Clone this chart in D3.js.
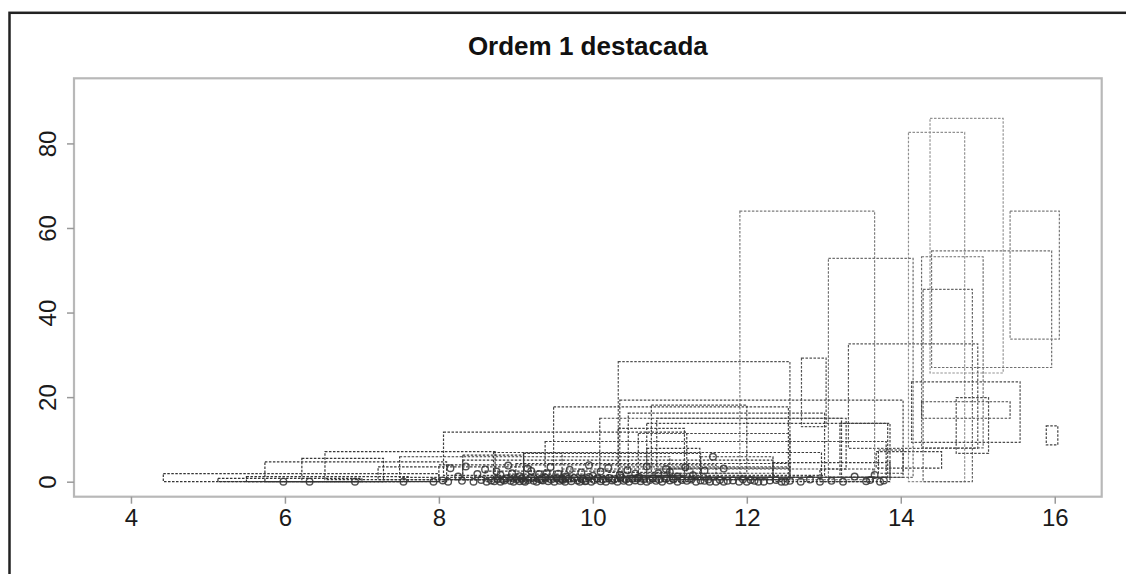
<!DOCTYPE html>
<html>
<head>
<meta charset="utf-8">
<script src="https://cdn.jsdelivr.net/npm/d3@7"></script>
<style>
  body { margin: 0; background: #fff; }
  svg { display: block; font-family: "Liberation Sans", Arial, sans-serif; }
</style>
</head>
<body>
<script>
// chart text + ticks
var title = "Ordem 1 destacada";
var xTicks = [4, 6, 8, 10, 12, 14, 16];
var yTicks = [0, 20, 40, 60, 80];

// boxes
var rectX0 = [14.10, 14.38, 15.42, 14.40, 14.27, 14.29, 14.14, 14.27, 14.72, 15.89,
              13.32, 13.68, 11.91, 13.06, 12.71, 10.33, 10.35, 10.76, 10.46, 10.83,
              10.70, 10.33, 10.59, 9.49, 10.09, 8.06, 9.38, 8.71, 6.52, 5.74,
              6.22, 4.42, 7.21, 8.31, 9.10, 7.49, 8.00, 9.00, 13.71, 11.40,
              11.00, 12.95, 12.34, 5.13, 5.50, 8.60, 9.60, 8.90, 10.20, 10.70,
              13.21, 8.31, 9.10];
var rectX1 = [14.83, 15.33, 16.06, 15.96, 15.07, 14.93, 15.55, 15.42, 15.14, 16.04,
              15.00, 14.53, 13.66, 14.16, 13.03, 12.56, 14.03, 12.00, 13.01, 13.29,
              13.86, 11.19, 12.56, 12.54, 13.23, 11.22, 13.81, 12.97, 8.73, 8.10,
              7.28, 8.00, 9.20, 12.34, 11.40, 11.00, 11.60, 12.56, 14.03, 12.34,
              12.56, 13.64, 13.86, 7.00, 7.60, 10.40, 11.30, 9.90, 11.00, 11.39,
              13.83, 9.10, 9.60];
var rectY0 = [0, 25.7, 33.7, 27.0, 8.0, 0, 9.3, 15.0, 6.7, 8.7,
              7.9, 3.2, 0.5, 1.0, 13.0, 3.5, 1.0, 2.0, 1.5, 3.0,
              1.0, 1.0, 2.0, 1.0, 1.0, 1.5, 1.0, 1.0, 0.5, 0,
              0, 0, 0.5, 1.0, 1.0, 1.0, 0.5, 0.5, 2.0, 0.5,
              0.5, 0, 0, 0, 0, 0, 0, 0.3, 0.2, 1.0,
              1.0, 0.5, 0.5];
var rectY1 = [82.6, 85.9, 64.0, 54.6, 53.2, 45.5, 23.6, 18.9, 19.9, 13.2,
              32.6, 7.1, 64.0, 52.8, 29.2, 28.4, 19.3, 18.1, 16.2, 15.0,
              13.8, 12.6, 11.4, 17.7, 15.0, 11.7, 9.5, 6.9, 7.1, 4.7,
              5.5, 1.9, 3.5, 5.1, 6.7, 5.9, 4.0, 4.3, 7.5, 5.9,
              3.2, 3.0, 4.5, 0.8, 1.2, 2.5, 3.0, 1.8, 2.2, 7.9,
              13.8, 6.3, 6.7];

// points
var pointX = [5.98, 6.32, 6.91, 7.54, 7.93, 8.05, 8.12, 8.30, 8.45, 8.55, 8.62,
              8.72, 8.76, 8.80, 8.85, 8.88, 8.93, 8.97, 9.01, 9.05, 9.08,
              9.12, 9.16, 9.20, 9.23, 9.27, 9.31, 9.35, 9.38, 9.42, 9.46,
              9.50, 9.53, 9.57, 9.61, 9.64, 9.68, 9.72, 9.76, 9.80, 9.83,
              9.87, 9.91, 9.95, 9.98, 10.02, 10.06, 10.10, 10.13, 10.17, 10.21,
              10.25, 10.28, 10.32, 10.36, 10.40, 10.43, 10.47, 10.51, 10.55, 10.58,
              10.62, 10.66, 10.70, 10.74, 10.78, 10.82, 10.86, 10.90, 10.95, 11.00,
              11.05, 11.10, 11.16, 11.22, 11.28, 11.34, 11.40,
              8.15, 8.35, 8.60, 8.90, 9.15, 9.45, 9.70, 9.95, 10.20, 10.45,
              10.70, 10.95, 11.20, 11.45, 11.70, 9.30, 9.85, 10.35, 10.85, 11.30, 8.80,
              11.50, 11.60, 11.56, 11.75, 11.90, 12.05, 12.15, 12.30, 12.45, 12.56,
              12.70, 12.82, 12.95, 13.10, 13.25, 13.40, 13.55, 13.60, 13.66, 13.73, 13.78,
              11.45, 11.52, 11.65, 11.70, 11.82, 11.95, 12.00, 12.10, 12.22, 12.38, 12.50,
              8.25, 8.50, 8.75, 9.05, 9.20, 9.55, 9.65, 10.00, 10.10, 10.55, 10.60,
              11.00, 11.10, 9.40, 8.95, 8.68, 8.83, 9.10, 9.33, 9.60, 9.90];
var pointY = [0, 0, 0, 0, 0, 0.3, 0, 0.2, 0, 0.4, 0,
              0.1, 0.6, 0, 0.3, 0.8, 0.2, 0, 0.5, 0.1, 0.7,
              0, 0.4, 0.9, 0.2, 0, 0.6, 0.3, 1.0, 0.1, 0.5,
              0, 0.8, 0.2, 0.4, 0, 0.7, 0.1, 0.9, 0.3, 0,
              0.6, 0.2, 1.1, 0, 0.4, 0.8, 0.1, 0.5, 0, 0.9,
              0.3, 0.6, 0, 1.0, 0.2, 0.5, 0, 0.7, 0.3, 0.9,
              0.1, 0.6, 0, 0.4, 0.8, 0.2, 0.5, 0, 0.7, 0.3,
              0.6, 0, 0.4, 0.2, 0.5, 0, 0.3,
              3.2, 3.6, 2.9, 3.8, 3.1, 3.5, 2.8, 3.9, 3.3, 2.7,
              3.6, 3.0, 3.4, 2.6, 3.1, 1.8, 2.2, 1.6, 2.0, 1.5, 1.6,
              0.5, 0, 5.9, 0.2, 0, 0.4, 0, 0.3, 0, 0.2,
              0, 0.5, 0, 0.2, 0, 1.2, 0.1, 0.4, 1.6, 0, 0.3,
              0.2, 0, 0.4, 0, 0.3, 0.6, 0, 0.2, 0, 0.4, 0,
              1.2, 1.8, 2.4, 1.3, 2.5, 1.9, 1.2, 1.4, 2.4, 1.9, 1.1,
              2.3, 1.2, 2.0, 2.0, 0.3, 0.5, 0.2, 0.4, 0.6, 0.1];

var W = 1126, H = 574;
// plot region (pixels)
var pl = 74, pr = 1101.7, pt = 78.3, pb = 496.7;

var svg = d3.select("body").append("svg")
    .attr("width", W)
    .attr("height", H);

// outer frame (cut off at right/bottom)
svg.append("rect")
    .attr("x", 9.5).attr("y", 12.8)
    .attr("width", 1200).attr("height", 700)
    .attr("fill", "none")
    .attr("stroke", "#222")
    .attr("stroke-width", 2.5);

var x = d3.scaleLinear().domain([3.26, 16.61]).range([pl, pr]);
var y = d3.scaleLinear().domain([-3.55, 95.4]).range([pb, pt]);

// lighter boxes for tall ones
var shade = d3.scaleLinear().domain([0, 90]).range(["#333", "#999"]);

var rects = rectX0.map(function(d, i) {
    return {x0: d, x1: rectX1[i], y0: rectY0[i], y1: rectY1[i]};
});
var points = pointX.map(function(d, i) { return {x: d, y: pointY[i]}; });

var plot = svg.append("g");

plot.selectAll("rect.box")
    .data(rects)
    .enter().append("rect")
    .attr("class", "box")
    .attr("x", function(d) { return x(d.x0); })
    .attr("y", function(d) { return y(d.y1); })
    .attr("width", function(d) { return x(d.x1) - x(d.x0); })
    .attr("height", function(d) { return y(d.y0) - y(d.y1); })
    .attr("fill", "none")
    .attr("stroke", function(d) { return shade(d.y1); })
    .attr("stroke-width", 1.2)
    .attr("stroke-dasharray", "2.5,1.5");

plot.selectAll("circle")
    .data(points)
    .enter().append("circle")
    .attr("cx", function(d) { return x(d.x); })
    .attr("cy", function(d) { return y(d.y); })
    .attr("r", 3.3)
    .attr("fill", "none")
    .attr("stroke", "#333")
    .attr("stroke-opacity", 0.85)
    .attr("stroke-width", 1.4);

// plot box
svg.append("rect")
    .attr("x", pl).attr("y", pt)
    .attr("width", pr - pl).attr("height", pb - pt)
    .attr("fill", "none")
    .attr("stroke", "#b8b8b8")
    .attr("stroke-width", 2.2);

// axes
var xAxis = svg.append("g")
    .attr("transform", "translate(0," + pb + ")")
    .call(d3.axisBottom(x).tickValues(xTicks).tickSize(7).tickPadding(5));
var yAxis = svg.append("g")
    .attr("transform", "translate(" + pl + ",0)")
    .call(d3.axisLeft(y).tickValues(yTicks).tickSize(7).tickPadding(6));

[xAxis, yAxis].forEach(function(a) {
    a.select(".domain").remove();
    a.selectAll(".tick line").attr("stroke", "#999").attr("stroke-width", 1.5);
    a.selectAll(".tick text")
        .attr("fill", "#1a1a1a")
        .style("font-size", "24px")
        .style("font-family", "'Liberation Sans', Arial, sans-serif");
});

// R style rotated y labels
yAxis.selectAll(".tick text")
    .attr("x", null).attr("dy", null)
    .attr("text-anchor", "middle")
    .attr("transform", "translate(-18,0) rotate(-90)");

xAxis.selectAll(".tick text").attr("dy", "0.71em");

// title
svg.append("text")
    .attr("x", (pl + pr) / 2)
    .attr("y", 55)
    .attr("text-anchor", "middle")
    .style("font-size", "26px")
    .style("font-weight", "bold")
    .attr("fill", "#111")
    .text(title);
</script>
</body>
</html>
